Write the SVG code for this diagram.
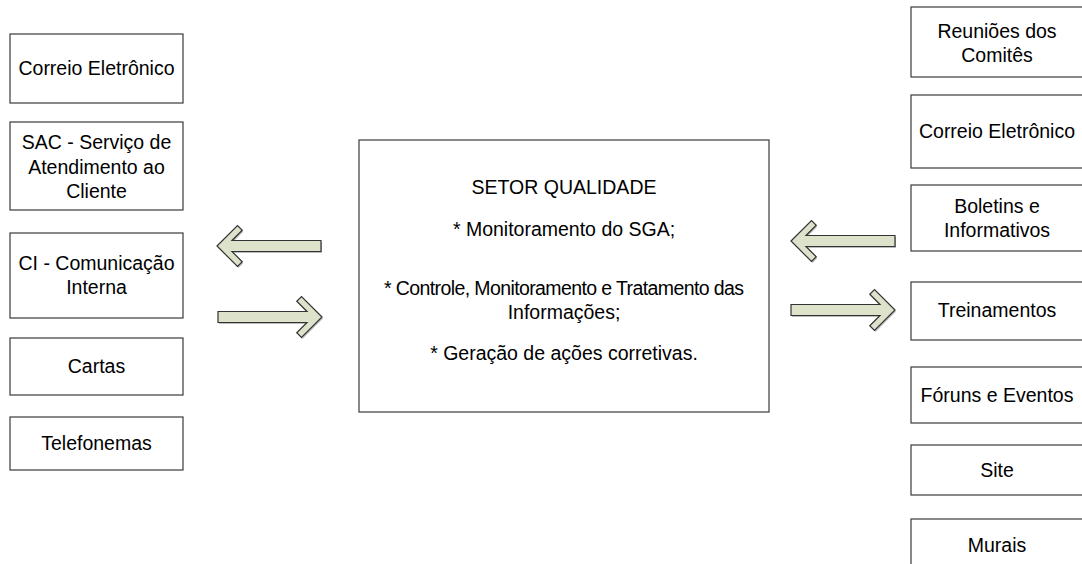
<svg xmlns="http://www.w3.org/2000/svg" width="1082" height="564" viewBox="0 0 1082 564">
<style>
.box{fill:#fff;stroke:#3a3a3a;stroke-width:1.2}
.t{font-family:"Liberation Sans",Arial,sans-serif;font-size:19.5px;fill:#000;text-anchor:middle}
.arr{fill:#dde2cb;stroke:#333;stroke-width:1.2;stroke-linejoin:miter}
.sh{fill:#777;opacity:0.5}
</style>
<defs>
<path id="ar" d="M0,0 L-20.5,-20.5 L-25.25,-15.75 L-15,-5.5 L-104,-5.5 L-104,5.5 L-15,5.5 L-25.25,15.75 L-20.5,20.5 Z"/>
</defs>
<rect width="1082" height="564" fill="#fff"/>
<g id="connectors">
<g transform="translate(217,246) scale(-1,1)"><use href="#ar" class="sh" transform="translate(-1,1.5)"/><use href="#ar" class="arr"/></g>
<g transform="translate(322,317)"><use href="#ar" class="sh" transform="translate(1,1.5)"/><use href="#ar" class="arr"/></g>
<g transform="translate(791,241) scale(-1,1)"><use href="#ar" class="sh" transform="translate(-1,1.5)"/><use href="#ar" class="arr"/></g>
<g transform="translate(895,310)"><use href="#ar" class="sh" transform="translate(1,1.5)"/><use href="#ar" class="arr"/></g>
</g>
<g id="l1"><rect class="box" x="10" y="34" width="173" height="69"/><text class="t" x="96.5" y="75">Correio Eletrônico</text></g>
<g id="l2"><rect class="box" x="10" y="122" width="173" height="88"/><text class="t" x="96.5" y="149">SAC - Serviço de</text><text class="t" x="96.5" y="173.5">Atendimento ao</text><text class="t" x="96.5" y="198">Cliente</text></g>
<g id="l3"><rect class="box" x="10" y="233" width="173" height="85"/><text class="t" x="96.5" y="270">CI - Comunicação</text><text class="t" x="96.5" y="294">Interna</text></g>
<g id="l4"><rect class="box" x="10" y="338" width="173" height="57"/><text class="t" x="96.5" y="373">Cartas</text></g>
<g id="l5"><rect class="box" x="10" y="417" width="173" height="53"/><text class="t" x="96.5" y="450">Telefonemas</text></g>
<g id="center"><rect class="box" x="359" y="140" width="410" height="272"/>
<text class="t" x="564" y="194">SETOR QUALIDADE</text>
<text class="t" x="564" y="236">* Monitoramento do SGA;</text>
<text class="t" x="564" y="295" textLength="360" lengthAdjust="spacing">* Controle, Monitoramento e Tratamento das</text>
<text class="t" x="564" y="319">Informações;</text>
<text class="t" x="564" y="360">* Geração de ações corretivas.</text>
</g>
<g id="r1"><rect class="box" x="911" y="7" width="172" height="70"/><text class="t" x="997" y="38">Reuniões dos</text><text class="t" x="997" y="62">Comitês</text></g>
<g id="r2"><rect class="box" x="911" y="95" width="172" height="73"/><text class="t" x="997" y="138">Correio Eletrônico</text></g>
<g id="r3"><rect class="box" x="911" y="185" width="172" height="66"/><text class="t" x="997" y="213">Boletins e</text><text class="t" x="997" y="237">Informativos</text></g>
<g id="r4"><rect class="box" x="911" y="282" width="172" height="58"/><text class="t" x="997" y="317">Treinamentos</text></g>
<g id="r5"><rect class="box" x="911" y="367" width="172" height="56"/><text class="t" x="997" y="402">Fóruns e Eventos</text></g>
<g id="r6"><rect class="box" x="911" y="445" width="172" height="50"/><text class="t" x="997" y="477">Site</text></g>
<g id="r7"><rect class="box" x="911" y="519" width="172" height="60"/><text class="t" x="997" y="552">Murais</text></g>
</svg>
